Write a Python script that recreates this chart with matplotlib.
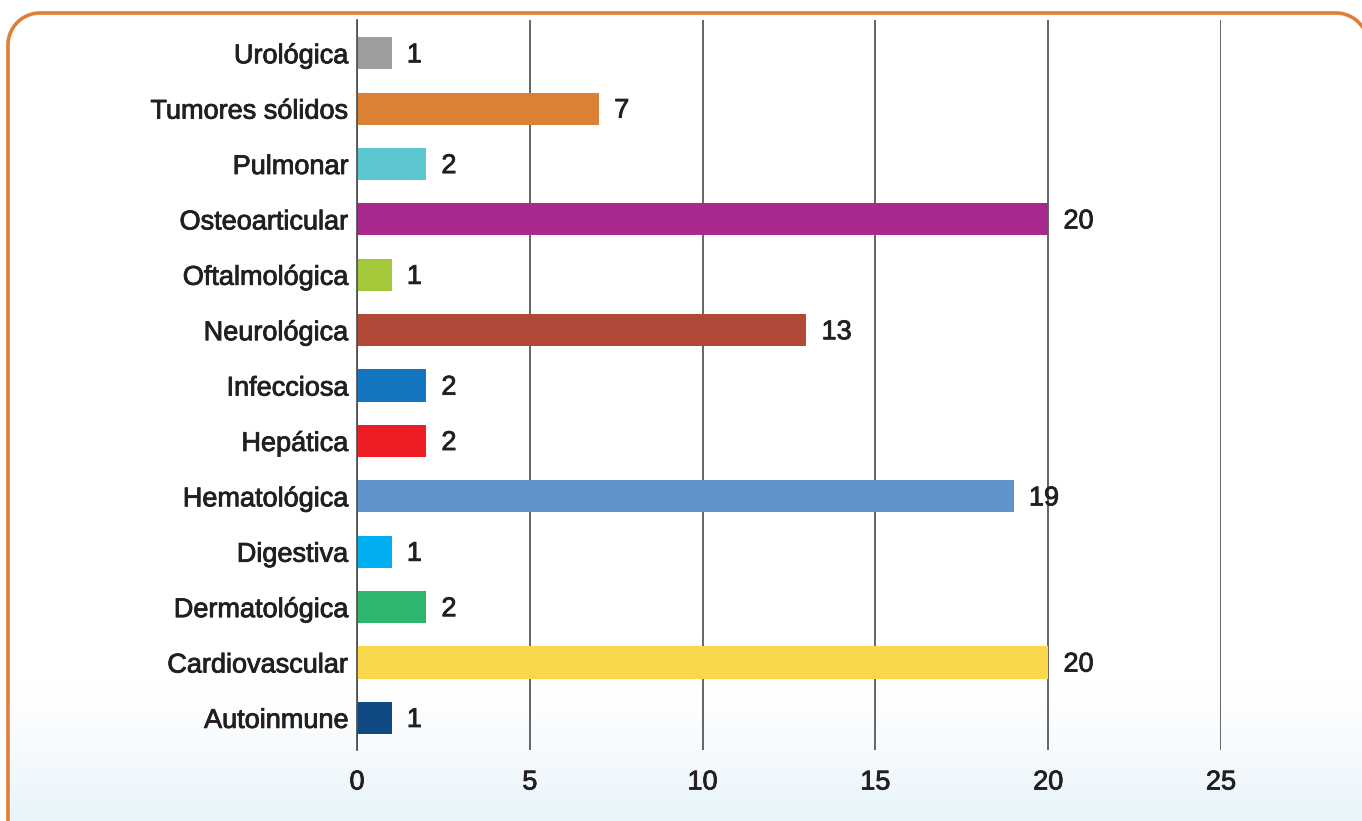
import numpy as np
import matplotlib.pyplot as plt
import matplotlib.patheffects as pe
from matplotlib.patches import Polygon

# datos (de abajo hacia arriba)
categorias = ['Autoinmune', 'Cardiovascular', 'Dermatológica', 'Digestiva',
              'Hematológica', 'Hepática', 'Infecciosa', 'Neurológica',
              'Oftalmológica', 'Osteoarticular', 'Pulmonar', 'Tumores sólidos',
              'Urológica']
valores = [1, 20, 2, 1, 19, 2, 2, 13, 1, 20, 2, 7, 1]
colores = ['#0f4a85', '#f9d84b', '#2eb56e', '#00aeef', '#5f93c9', '#ee1d25',
           '#1476be', '#b04937', '#a3c83a', '#a8288e', '#5bc6d2', '#dc8035',
           '#9d9d9c']
ticks_x = [0, 5, 10, 15, 20, 25]

TXT = '#231f20'
plt.rcParams['font.family'] = ['Liberation Sans', 'DejaVu Sans']
grueso = [pe.withStroke(linewidth=0.6, foreground=TXT)]

W, H = 1362, 821
fig = plt.figure(figsize=(W / 100, H / 100), dpi=100)

# fondo en pixeles: marco redondeado con degradado abajo
bg = fig.add_axes([0, 0, 1, 1], zorder=0)
bg.axis('off')
bg.set_xlim(0, W)
bg.set_ylim(H, 0)

xl, xr, yt, yb, r = 8, 1368, 13, H + 30, 32
a = np.linspace(np.pi, 1.5 * np.pi, 30)
b = np.linspace(1.5 * np.pi, 2 * np.pi, 30)
px = np.concatenate([[xl], xl + r + r * np.cos(a), xr - r + r * np.cos(b), [xr]])
py = np.concatenate([[yb], yt + r + r * np.sin(a), yt + r + r * np.sin(b), [yb]])
bg.plot(px, py, color='#e07f35', linewidth=2.6, solid_capstyle='butt', zorder=5)
forma = Polygon(np.column_stack([px, py]), closed=True, facecolor='none',
                edgecolor='none')
bg.add_patch(forma)

t = np.linspace(0, 1, 256)
mezcla = np.clip((t - 0.05) / 0.95, 0, 1) ** 1.2
azul = np.array([0.91, 0.957, 0.984])
grad = np.ones((256, 1, 3))
for k in range(3):
    grad[:, 0, k] = 1 - mezcla * (1 - azul[k])
img = bg.imshow(grad, extent=[0, W, H, H - 140], aspect='auto', zorder=1)
img.set_clip_path(forma)
bg.set_xlim(0, W)
bg.set_ylim(H, 0)

ax = fig.add_axes([357 / W, 71 / H, 864 / W, 730 / H], zorder=1)
ax.patch.set_alpha(0)
y = np.arange(len(categorias))
ax.barh(y, valores, height=0.58, color=colores, zorder=3)

for yi, v in zip(y, valores):
    ax.annotate(str(v), (v, yi), xytext=(11, -1.5), textcoords='offset points',
                ha='left', va='center', fontsize=19.5, color=TXT,
                path_effects=grueso)

ax.set_xlim(0, 25)
ax.set_ylim(-0.58, 12.6)
ax.set_xticks(ticks_x)
ax.set_yticks(y)
ax.set_yticklabels(categorias)
ax.grid(axis='x', color='#4a4a4a', linewidth=1.2, zorder=1)
ax.set_axisbelow(True)
for s in ['top', 'right', 'bottom']:
    ax.spines[s].set_visible(False)
ax.spines['left'].set_color('#4a4a4a')
ax.spines['left'].set_linewidth(1.2)
ax.spines['left'].set_zorder(4)
ax.tick_params(axis='both', length=0, labelsize=19.5, labelcolor=TXT)
ax.tick_params(axis='x', pad=14)
ax.tick_params(axis='y', pad=6)
for lab in ax.get_xticklabels() + ax.get_yticklabels():
    lab.set_path_effects(grueso)

fig.savefig('out.png', dpi=100)
